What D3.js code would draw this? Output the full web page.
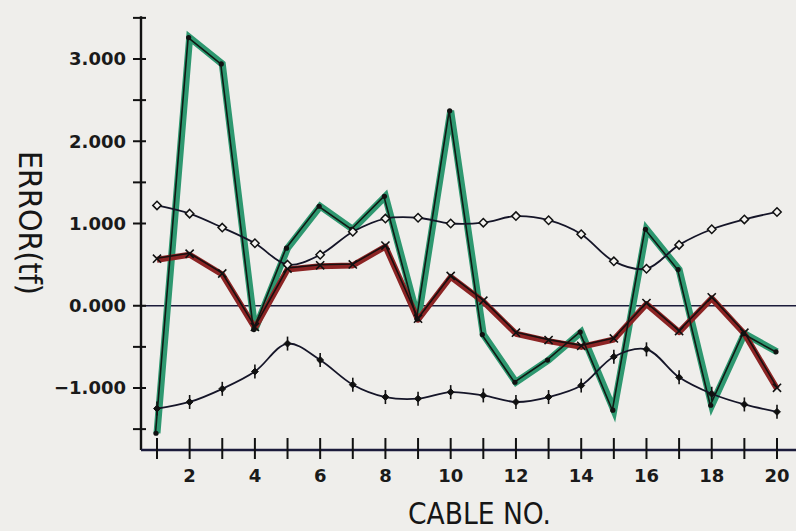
<!DOCTYPE html>
<html>
<head>
<meta charset="utf-8">
<script src="https://cdn.jsdelivr.net/npm/d3@7"></script>
<style>
  html, body { margin: 0; padding: 0; background: #efeeeb; }
  svg { display: block; }
</style>
</head>
<body>
<svg id="chart" width="796" height="531"></svg>
<script>
// Cable numbers along the horizontal axis
const cables = d3.range(1, 21);

// Error (tf) per cable
const errorA = [-1.55, 3.26, 2.94, -0.29, 0.70, 1.21, 0.93, 1.33, -0.16, 2.37,
                -0.35, -0.93, -0.66, -0.32, -1.27, 0.93, 0.44, -1.21, -0.34, -0.56];
const errorB = [0.56, 0.62, 0.38, -0.27, 0.44, 0.48, 0.49, 0.72, -0.17, 0.35,
                0.05, -0.34, -0.43, -0.50, -0.41, 0.02, -0.32, 0.09, -0.34, -1.01];
const upperLimit = [1.22, 1.12, 0.95, 0.76, 0.50, 0.62, 0.90, 1.06, 1.07, 1.00,
                    1.01, 1.09, 1.04, 0.87, 0.54, 0.45, 0.74, 0.93, 1.05, 1.14];
const lowerLimit = [-1.25, -1.17, -1.01, -0.80, -0.46, -0.66, -0.96, -1.11, -1.13, -1.05,
                    -1.09, -1.17, -1.11, -0.97, -0.62, -0.53, -0.87, -1.07, -1.20, -1.29];

// Axis ticks
const yMajorTicks = [-1, 0, 1, 2, 3];
const yMinorTicks = [-1.5, -0.5, 1.5, 2.5, 3.5];
const xLabelTicks = [2, 4, 6, 8, 10, 12, 14, 16, 18, 20];
const yTickLabels = ["\u22121.000", "0.000", "1.000", "2.000", "3.000"];

const svg = d3.select("#chart");
const ink = "#1b1b3a";

const x = d3.scaleLinear().domain([1, 20]).range([157, 777]);
const y = d3.scaleLinear().domain([-1, 3]).range([388, 59]);

const axisX = 141;
const axisBottom = 450;
const axisTop = y(3.52);

// Zero reference line
svg.append("line")
  .attr("x1", axisX).attr("x2", 796)
  .attr("y1", y(0)).attr("y2", y(0))
  .attr("stroke", ink).attr("stroke-width", 1.6);

// Vertical axis with ticks crossing it
svg.append("line")
  .attr("x1", axisX).attr("x2", axisX)
  .attr("y1", axisTop).attr("y2", axisBottom)
  .attr("stroke", "#111").attr("stroke-width", 2.4);

svg.append("g").selectAll("line")
  .data(yMajorTicks.concat(yMinorTicks))
  .join("line")
  .attr("x1", axisX - 8).attr("x2", axisX + 5)
  .attr("y1", d => y(d)).attr("y2", d => y(d))
  .attr("stroke", "#111").attr("stroke-width", 2);

svg.append("g").selectAll("text")
  .data(yMajorTicks)
  .join("text")
  .attr("x", 126)
  .attr("y", d => y(d))
  .attr("dy", "0.36em")
  .attr("text-anchor", "end")
  .attr("font-family", "DejaVu Sans, sans-serif")
  .attr("font-weight", "bold")
  .attr("font-size", 18)
  .attr("fill", "#1a1a1a")
  .text((d, i) => yTickLabels[i]);

// Horizontal axis with ticks crossing it
svg.append("line")
  .attr("x1", axisX).attr("x2", 796)
  .attr("y1", axisBottom).attr("y2", axisBottom)
  .attr("stroke", ink).attr("stroke-width", 2.4);

svg.append("g").selectAll("line")
  .data(cables)
  .join("line")
  .attr("x1", d => x(d)).attr("x2", d => x(d))
  .attr("y1", axisBottom - 12).attr("y2", axisBottom + 9)
  .attr("stroke", "#111").attr("stroke-width", 2);

svg.append("g").selectAll("text")
  .data(xLabelTicks)
  .join("text")
  .attr("x", d => x(d))
  .attr("y", 482)
  .attr("text-anchor", "middle")
  .attr("font-family", "DejaVu Sans, sans-serif")
  .attr("font-weight", "bold")
  .attr("font-size", 18)
  .attr("fill", "#1a1a1a")
  .text(d => d);

// Axis titles
svg.append("text")
  .attr("x", 408).attr("y", 524)
  .attr("font-family", "Liberation Sans Narrow, DejaVu Sans Condensed, sans-serif")
  .attr("font-size", 30)
  .attr("textLength", 143)
  .attr("lengthAdjust", "spacingAndGlyphs")
  .attr("fill", "#161616")
  .text("CABLE NO.");

svg.append("text")
  .attr("transform", "translate(19,151) rotate(90)")
  .attr("font-family", "Liberation Sans Narrow, DejaVu Sans Condensed, sans-serif")
  .attr("font-size", 32)
  .attr("textLength", 144)
  .attr("lengthAdjust", "spacingAndGlyphs")
  .attr("fill", "#161616")
  .text("ERROR(tf)");

// Series lines
const pts = vals => vals.map((v, i) => [x(cables[i]), y(v)]);
const straight = d3.line();
const smooth = d3.line().curve(d3.curveCatmullRom.alpha(0.5));

svg.append("path")
  .attr("d", straight(pts(errorA)))
  .attr("fill", "none").attr("stroke", "#2e9870")
  .attr("stroke-width", 7).attr("stroke-linejoin", "miter");

svg.append("path")
  .attr("d", straight(pts(errorB)))
  .attr("fill", "none").attr("stroke", "#8c2424")
  .attr("stroke-width", 6).attr("stroke-linejoin", "round");

svg.append("path")
  .attr("d", straight(pts(errorA)))
  .attr("transform", "translate(-1.5,0)")
  .attr("fill", "none").attr("stroke", "#0f1a14").attr("stroke-width", 1.6);

svg.append("path")
  .attr("d", straight(pts(errorB)))
  .attr("transform", "translate(0,-1.5)")
  .attr("fill", "none").attr("stroke", "#1a0f0f").attr("stroke-width", 1.6);

svg.append("path")
  .attr("d", smooth(pts(upperLimit)))
  .attr("fill", "none").attr("stroke", "#151528").attr("stroke-width", 1.8);

svg.append("path")
  .attr("d", smooth(pts(lowerLimit)))
  .attr("fill", "none").attr("stroke", "#151528").attr("stroke-width", 1.8);

// Markers
svg.append("g").selectAll("circle")
  .data(pts(errorA))
  .join("circle")
  .attr("cx", d => d[0] - 1).attr("cy", d => d[1])
  .attr("r", 2.6).attr("fill", "#111");

const cross = d3.symbol().type(d3.symbolX).size(45);
svg.append("g").selectAll("path")
  .data(pts(errorB))
  .join("path")
  .attr("transform", d => `translate(${d[0]},${d[1] - 1})`)
  .attr("d", cross)
  .attr("fill", "none").attr("stroke", "#111").attr("stroke-width", 1.6);

const diamond = d3.symbol().type(d3.symbolDiamond2).size(45);
svg.append("g").selectAll("path")
  .data(pts(upperLimit))
  .join("path")
  .attr("transform", d => `translate(${d[0]},${d[1]})`)
  .attr("d", diamond)
  .attr("fill", "#f4f3f0").attr("stroke", "#111").attr("stroke-width", 1.5);

svg.append("g").selectAll("path")
  .data(pts(lowerLimit))
  .join("path")
  .attr("transform", d => `translate(${d[0]},${d[1]})`)
  .attr("d", d3.symbol().type(d3.symbolDiamond2).size(30))
  .attr("fill", "#111").attr("stroke", "#111").attr("stroke-width", 1);

svg.append("g").selectAll("line")
  .data(pts(lowerLimit))
  .join("line")
  .attr("x1", d => d[0]).attr("x2", d => d[0])
  .attr("y1", d => d[1] - 7).attr("y2", d => d[1] + 7)
  .attr("stroke", "#111").attr("stroke-width", 1.6);
</script>
</body>
</html>
